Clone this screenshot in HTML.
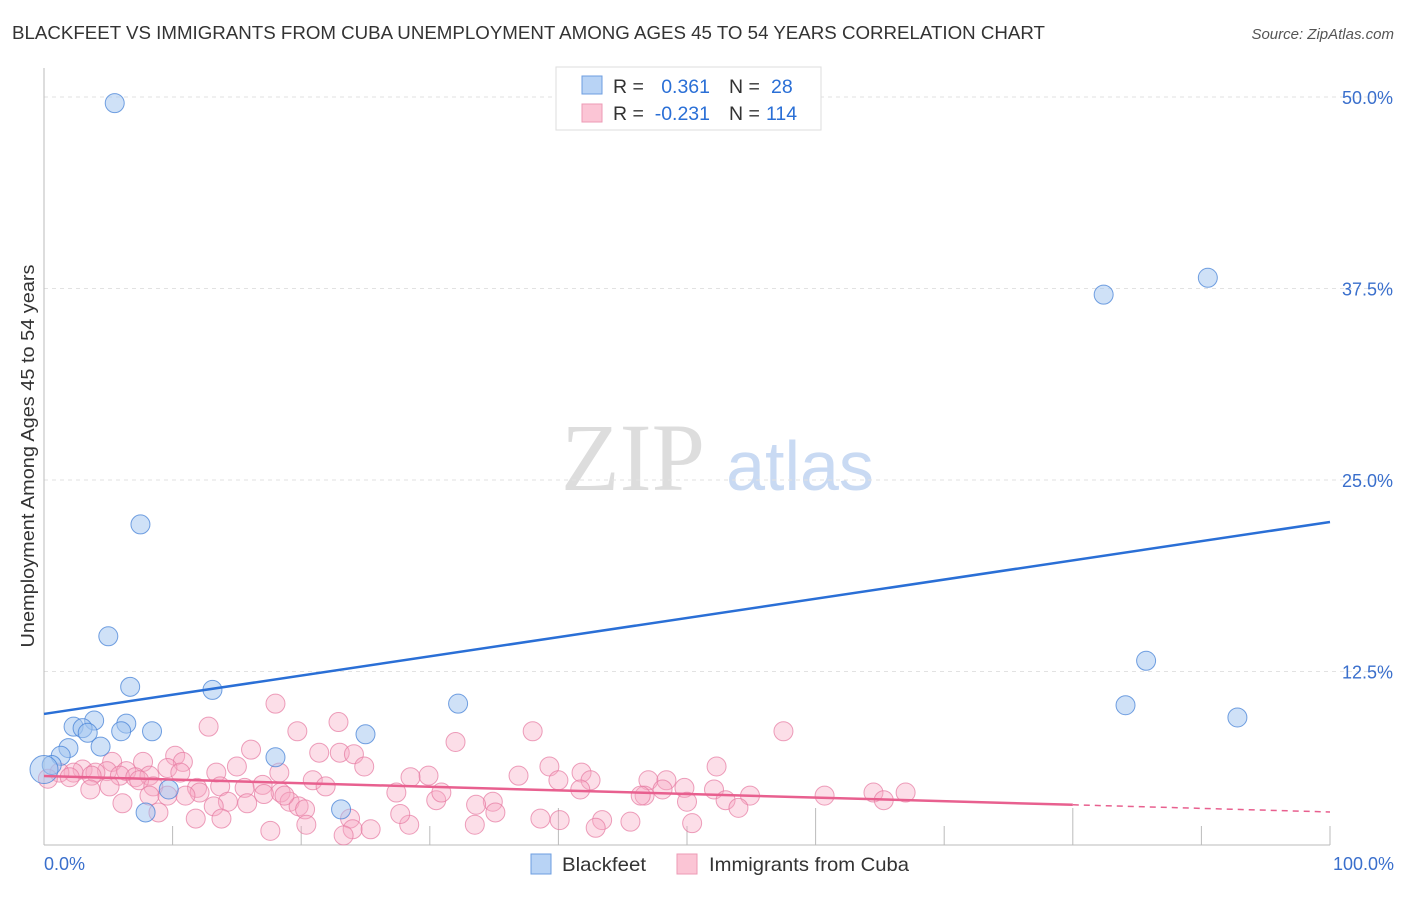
<!DOCTYPE html>
<html><head><meta charset="utf-8"><style>
body{margin:0;background:#fff;font-family:"Liberation Sans",sans-serif;}
</style></head><body>
<svg width="1406" height="892" xmlns="http://www.w3.org/2000/svg" id="chart">
<text x="12" y="39" font-size="18" fill="#333" textLength="1033" lengthAdjust="spacingAndGlyphs">BLACKFEET VS IMMIGRANTS FROM CUBA UNEMPLOYMENT AMONG AGES 45 TO 54 YEARS CORRELATION CHART</text>
<text x="1394" y="39" font-size="15" fill="#555" font-style="italic" text-anchor="end">Source: ZipAtlas.com</text>
<text x="633" y="490" font-size="96" fill="#ddd" font-family="Liberation Serif,serif" text-anchor="middle">ZIP</text>
<text x="800" y="490" font-size="70" fill="#c9daf3" text-anchor="middle">atlas</text>
<g id="grid"></g>
<line x1="44" y1="68" x2="44" y2="845" stroke="#bbb"/>
<line x1="44" y1="845" x2="1330" y2="845" stroke="#bbb"/>
<g id="xticks"></g>
<text x="34" y="456" font-size="18.5" fill="#333" text-anchor="middle" textLength="383" lengthAdjust="spacingAndGlyphs" transform="rotate(-90 34 456)">Unemployment Among Ages 45 to 54 years</text>
<text x="44" y="870" font-size="18" fill="#3a6fcc">0.0%</text>
<text x="1394" y="870" font-size="18" fill="#3a6fcc" text-anchor="end">100.0%</text>
<g id="pts"></g>
<g id="lines"></g>
<g>
<rect x="556" y="67" width="265" height="63" fill="#fff" stroke="#ddd"/>
<rect x="582" y="76" width="20" height="18" fill="#b8d3f5" stroke="#6d9ee0"/>
<rect x="582" y="104" width="20" height="18" fill="#fbc5d5" stroke="#ec9ab5"/>
<text x="613" y="93" font-size="19.5" fill="#333">R =</text>
<text x="710" y="93" font-size="19.5" fill="#2a6fd6" text-anchor="end">0.361</text>
<text x="729" y="93" font-size="19.5" fill="#333">N =</text>
<text x="771" y="93" font-size="19.5" fill="#2a6fd6">28</text>
<text x="613" y="120" font-size="19.5" fill="#333">R =</text>
<text x="710" y="120" font-size="19.5" fill="#2a6fd6" text-anchor="end">-0.231</text>
<text x="729" y="120" font-size="19.5" fill="#333">N =</text>
<text x="766" y="120" font-size="19.5" fill="#2a6fd6">114</text>
</g>
<g><rect x="531" y="854" width="20" height="20" fill="#b8d3f5" stroke="#6d9ee0"/><text x="562" y="871" font-size="19.5" fill="#333" textLength="84" lengthAdjust="spacingAndGlyphs">Blackfeet</text></g>
<g><rect x="677" y="854" width="20" height="20" fill="#fbc5d5" stroke="#ec9ab5"/><text x="709" y="871" font-size="19.5" fill="#333" textLength="200" lengthAdjust="spacingAndGlyphs">Immigrants from Cuba</text></g>
</svg>
<script>
const yTicks=[12.5,25,37.5,50];
const yTickLabels=["12.5%","25.0%","37.5%","50.0%"];
const xTicks=[10,20,30,40,50,60,70,80,90,100];
const blueX=[5.5,82.4,90.5,7.5,5.0,6.7,13.1,85.7,32.2,84.1,92.8,3.9,2.3,3.0,6.4,3.4,6.0,8.4,25.0,4.4,1.9,18.0,1.3,0.6,0.0,9.7,23.1,7.9];
const blueY=[49.6,37.1,38.2,22.1,14.8,11.5,11.3,13.2,10.4,10.3,9.5,9.3,8.9,8.8,9.1,8.5,8.6,8.6,8.4,7.6,7.5,6.9,7.0,6.4,6.1,4.8,3.5,3.3];
const pinkX=[18.0,19.7,12.8,22.9,38.0,57.5,32.0,16.1,10.2,21.4,23.0,24.1,7.7,5.3,10.8,9.6,15.0,24.9,39.3,52.3,6.4,4.9,3.0,4.0,2.3,1.2,10.6,13.4,18.3,29.9,28.5,36.9,41.8,42.5,40.0,47.0,48.4,5.9,7.1,8.2,2.0,3.7,7.4,0.3,20.9,21.9,17.0,15.6,13.7,11.9,5.1,3.6,8.5,12.1,8.2,9.6,18.4,27.4,30.5,30.9,34.9,33.6,35.1,19.1,19.8,20.3,18.7,14.3,11.0,13.2,6.1,15.8,17.1,46.7,49.8,48.1,50.0,52.1,60.7,64.5,65.3,67.0,54.9,53.0,54.0,46.4,38.6,40.1,41.7,43.4,45.6,42.9,50.4,28.4,33.5,27.7,23.8,20.4,11.8,8.9,13.8,24.0,25.4,23.3,17.6];
const pinkY=[10.4,8.6,8.9,9.2,8.6,8.6,7.9,7.4,7.0,7.2,7.2,7.1,6.6,6.6,6.6,6.2,6.3,6.3,6.3,6.3,6.0,6.0,6.1,5.9,5.9,5.9,5.9,5.9,5.9,5.7,5.6,5.7,5.9,5.4,5.4,5.4,5.4,5.7,5.6,5.7,5.6,5.7,5.4,5.5,5.4,5.0,5.1,4.9,5.0,4.9,5.0,4.8,5.0,4.6,4.4,4.4,4.6,4.6,4.1,4.6,4.0,3.8,3.3,4.0,3.7,3.5,4.4,4.0,4.4,3.7,3.9,3.9,4.5,4.4,4.9,4.8,4.0,4.8,4.4,4.6,4.1,4.6,4.4,4.1,3.6,4.4,2.9,2.8,4.8,2.8,2.7,2.3,2.6,2.5,2.5,3.2,2.9,2.5,2.9,3.3,2.9,2.2,2.2,1.8,2.1];
const blueLine=[9.73,22.26];
const pinkLine=[5.68,3.33];
const pinkSolidEnd=80;
const NS="http://www.w3.org/2000/svg";
const X=v=>44+v*12.86, Y=v=>863-v*15.32;
function mk(tag,attrs,parent){const e=document.createElementNS(NS,tag);for(const k in attrs)e.setAttribute(k,attrs[k]);document.getElementById(parent).appendChild(e);return e;}
yTicks.forEach((t,i)=>{
  const g=mk('line',{x1:44,x2:1394,y1:Y(t),y2:Y(t),stroke:'#e2e2e2','stroke-dasharray':'4,4'},'grid');
  
  
  const l=mk('text',{x:1393,y:Y(t)+7,'font-size':18,fill:'#3a6fcc','text-anchor':'end'},'grid');
  l.textContent=yTickLabels[i];
  
  
});
xTicks.forEach(t=>{
  const tk=mk('line',{x1:X(t),x2:X(t),y1:(t%20===0&&t!==100&&t!==20)?808:826,y2:845,stroke:'#bbb'},'xticks');
  
  
});
pinkX.forEach((x,i)=>{
  const c=mk('circle',{cx:X(x),cy:Y(pinkY[i]),r:9.5,fill:'rgba(246,168,194,0.38)',stroke:'rgba(230,120,160,0.7)','stroke-width':1},'pts');
  
  
});
blueX.forEach((x,i)=>{
  const c=mk('circle',{cx:X(x),cy:Y(blueY[i]),r:(i===24?14:9.5),fill:'rgba(160,196,240,0.5)',stroke:'rgba(70,130,215,0.75)','stroke-width':1},'pts');
  
  
});
const bl=mk('line',{x1:X(0),y1:Y(blueLine[0]),x2:X(100),y2:Y(blueLine[1]),stroke:'#2a6fd6','stroke-width':2.5},'lines');


const pAt=v=>pinkLine[0]+(pinkLine[1]-pinkLine[0])*v/100;
const pl=mk('line',{x1:X(0),y1:Y(pinkLine[0]),x2:X(pinkSolidEnd),y2:Y(pAt(pinkSolidEnd)),stroke:'#e8608f','stroke-width':2.5},'lines');


const pd=mk('line',{x1:X(pinkSolidEnd),y1:Y(pAt(pinkSolidEnd)),x2:X(100),y2:Y(pinkLine[1]),stroke:'#e8608f','stroke-width':1.5,'stroke-dasharray':'6,5'},'lines');


</script>
</body></html>
